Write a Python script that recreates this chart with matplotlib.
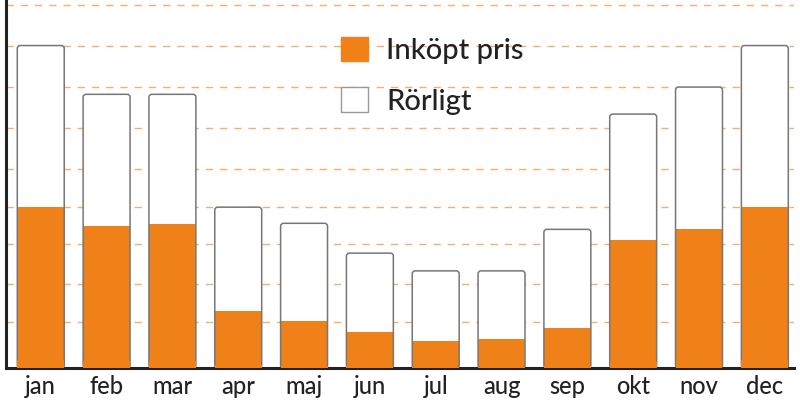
import matplotlib
matplotlib.use("Agg")
import matplotlib.pyplot as plt
from matplotlib.patches import FancyBboxPatch, Patch
import numpy as np

months = ["jan", "feb", "mar", "apr", "maj", "jun", "jul", "aug", "sep", "okt", "nov", "dec"]
inkopt = [40.0, 35.2, 35.8, 14.2, 11.7, 8.9, 6.6, 7.2, 9.9, 31.7, 34.5, 40.0]
total = [80.0, 67.9, 67.9, 39.9, 35.9, 28.5, 24.1, 24.1, 34.4, 63.0, 69.7, 80.0]
rorligt = [t - i for t, i in zip(total, inkopt)]
grid_vals = [11.4, 20.8, 30.8, 40.0, 49.4, 59.6, 69.7, 80.0, 90.0]

ORANGE = "#f08018"
EDGE = "#777777"
GRID = "#f6ad6e"
DARK = "#222222"

plt.rcParams["font.family"] = ["Lato", "DejaVu Sans"]

fig = plt.figure(figsize=(8, 4), dpi=100)
ax = fig.add_axes([6 / 800, 32 / 400, 788 / 800, 368 / 400])

x = np.arange(len(months))
width = 0.713

b_top = ax.bar(x, rorligt, width, bottom=inkopt, color="white", linewidth=0, zorder=2)
b_bot = ax.bar(x, inkopt, width, color=ORANGE, linewidth=0, zorder=3)

# rounded outline around full stack
for p_top, p_bot in zip(b_top.patches, b_bot.patches):
    x0 = p_top.get_x()
    w = p_top.get_width()
    y0 = p_bot.get_y()
    h = p_top.get_y() + p_top.get_height() - y0
    fb = FancyBboxPatch((x0, y0), w, h,
                        boxstyle="round,pad=0,rounding_size=0.045",
                        mutation_aspect=16.4,
                        facecolor="none", edgecolor=EDGE, linewidth=1.1, zorder=4)
    ax.add_patch(fb)
    ax.bar(x0 + w / 2, p_bot.get_height() * 0.05, w, color=ORANGE, linewidth=0, zorder=5)

ax.set_xlim(-0.528, 11.443)
ax.set_ylim(0, 91.3)

ax.set_yticks(grid_vals)
ax.yaxis.grid(True, color=GRID, linestyle=(0, (5.25, 5.0)), linewidth=1.0, zorder=0)
ax.set_axisbelow(True)
ax.tick_params(axis="y", left=False, labelleft=False)
ax.set_xticks(x)
ax.set_xticklabels(months, fontsize=17, color=DARK, fontweight="medium")
ax.tick_params(axis="x", length=0, pad=5)

for s in ["top", "right"]:
    ax.spines[s].set_visible(False)
for s in ["left", "bottom"]:
    ax.spines[s].set_color(DARK)
    ax.spines[s].set_linewidth(2.2)

handles = [Patch(facecolor=ORANGE, edgecolor=ORANGE, label="Inköpt pris"),
           Patch(facecolor="white", edgecolor="#999999", linewidth=1, label="Rörligt")]
leg = ax.legend(handles=handles, loc="upper left", bbox_to_anchor=(341 / 800, 1 - 36.5 / 400),
                bbox_transform=fig.transFigure, frameon=False,
                prop={"size": 21, "weight": "medium"},
                handlelength=0.93, handleheight=0.93, handletextpad=0.62,
                labelspacing=0.8, borderpad=0, borderaxespad=0)
for t in leg.get_texts():
    t.set_color(DARK)

fig.savefig("out.png", dpi=100)
